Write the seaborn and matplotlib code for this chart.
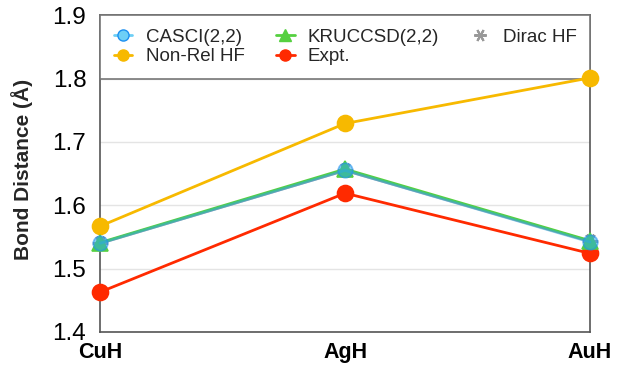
import matplotlib
matplotlib.use("Agg")
import matplotlib.pyplot as plt
import seaborn as sns
import pandas as pd
from matplotlib.lines import Line2D

molecules = ["CuH", "AgH", "AuH"]
casci = [1.540, 1.655, 1.542]
kruccsd = [1.541, 1.657, 1.544]
dirac_hf = [1.540, 1.655, 1.543]
nonrel_hf = [1.567, 1.729, 1.801]
expt = [1.463, 1.619, 1.524]

sns.set_theme(style="white")
plt.rcParams['font.family'] = ['Liberation Sans', 'DejaVu Sans']

fig = plt.figure(figsize=(6.26, 3.69), dpi=100)
ax = fig.add_axes([0.16, 0.1003, 0.7825, 0.8587])

x = list(range(len(molecules)))

star = (6, 2, 90)
series = [
    ("Non-Rel HF", nonrel_hf, dict(color="#f7b900", marker="o", mec="#f7b900", mfc="#f7b900", ms=11.5, alpha=1.0)),
    ("Expt.", expt, dict(color="#ff2a00", marker="o", mec="#ff2a00", mfc="#ff2a00", ms=11.5, alpha=1.0)),
    ("Dirac HF", dirac_hf, dict(color="#999999", marker=star, mec="#999999", mfc="#999999", ms=11, alpha=1.0, mew=2)),
    ("KRUCCSD(2,2)", kruccsd, dict(color="#55d040", marker="^", mec="#55d040", mfc="#55d040", ms=12, alpha=1.0)),
    ("CASCI(2,2)", casci, dict(color="#2fa8e0", marker="o", mec="#1e90f0", mfc="#2aa8e8", ms=10.5, alpha=0.55)),
]

for name, vals, st in series:
    df = pd.DataFrame({"x": x, "y": vals})
    sns.lineplot(data=df, x="x", y="y", ax=ax, color=st["color"], lw=2.0,
                 marker=st["marker"], markersize=st["ms"], markeredgecolor=st["mec"],
                 markerfacecolor=st["mfc"], markeredgewidth=st.get("mew", 1.2),
                 alpha=st["alpha"], clip_on=False, zorder=5)

ax.set_xlim(0, 2)
ax.set_ylim(1.4, 1.9)
ax.set_yticks([1.4, 1.5, 1.6, 1.7, 1.8, 1.9])
ax.set_yticklabels(["1.4", "1.5", "1.6", "1.7", "1.8", "1.9"], fontsize=17.5)
ax.set_xticks(x)
ax.set_xticklabels(molecules, fontsize=15.5, fontweight="bold")
ax.set_xlabel("")
ax.set_ylabel("Bond Distance (Å)", fontsize=15, fontweight="bold")
ax.yaxis.set_label_coords(-0.138, 0.513)
ax.yaxis.grid(True, color="#e4e4e4", lw=1)
ax.xaxis.grid(False)
for s in ax.spines.values():
    s.set_color("#555555")
    s.set_linewidth(1.2)
ax.tick_params(axis="y", length=0, pad=10, colors="black")
ax.tick_params(axis="x", length=0, pad=7, colors="black")

leg_items = [
    ("CASCI(2,2)", Line2D([], [], color="#6ecff6", marker="o", ms=8, mfc="#6ecff6", mec="#1e90f0", lw=2)),
    ("Non-Rel HF", Line2D([], [], color="#f7b900", marker="o", ms=8, mfc="#f7b900", mec="#f7b900", lw=2)),
    ("KRUCCSD(2,2)", Line2D([], [], color="#55d040", marker="^", ms=9, mfc="#55d040", mec="#55d040", lw=2)),
    ("Expt.", Line2D([], [], color="#ff2a00", marker="o", ms=8, mfc="#ff2a00", mec="#ff2a00", lw=2)),
    ("Dirac HF", Line2D([], [], color="#999999", marker=star, ms=9, mfc="#999999", mec="#999999", mew=1.5, lw=0)),
]
leg = ax.legend([h for _, h in leg_items], [n for n, _ in leg_items], ncol=3,
                loc="upper left", bbox_to_anchor=(0, 0.8, 1, 0.2), mode="expand",
                borderaxespad=0, fontsize=13.5, frameon=True, fancybox=False,
                handlelength=1.0, handletextpad=0.7, columnspacing=1.0,
                labelspacing=0.12, borderpad=0.72)
leg.get_frame().set_edgecolor("#777777")
leg.get_frame().set_linewidth(1.2)
leg.get_frame().set_alpha(1.0)
leg.set_zorder(4)

fig.savefig("out.png", dpi=100)
